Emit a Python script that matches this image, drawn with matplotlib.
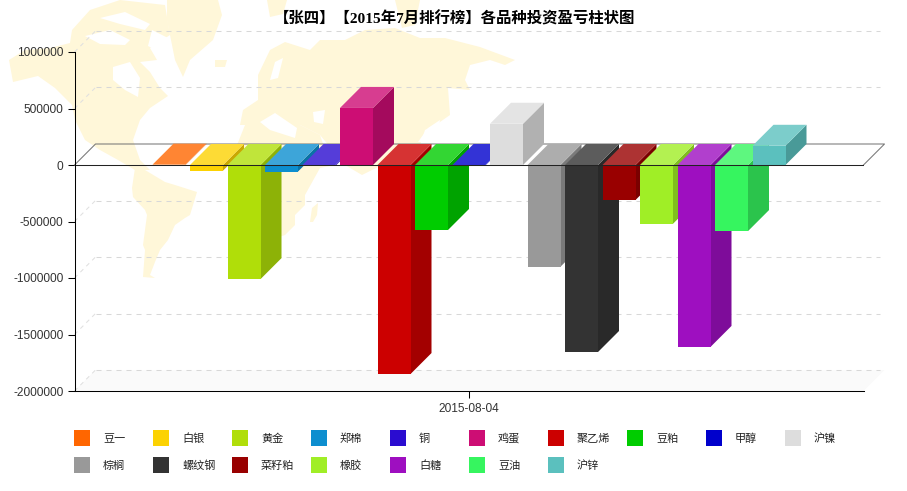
import matplotlib
matplotlib.use("Agg")
import matplotlib.pyplot as plt
from matplotlib.colors import to_rgb
from matplotlib.patches import Polygon, Rectangle
import numpy as np

names = ["豆一", "白银", "黄金", "郑棉", "铜", "鸡蛋", "聚乙烯", "豆粕", "甲醇", "沪镍",
         "棕榈", "螺纹钢", "菜籽粕", "橡胶", "白糖", "豆油", "沪锌"]
values = [3000, -50000, -1010000, -58000, -8000, 505000, -1850000, -575000, -3000, 365000,
          -900000, -1655000, -310000, -520000, -1610000, -585000, 170000]
colors = ["#FF6600", "#FCD202", "#B0DE09", "#0D8ECF", "#2A0CD0", "#CD0D74", "#CC0000", "#00CC00", "#0000CC", "#DDDDDD",
          "#999999", "#333333", "#990000", "#A0EE26", "#9E0FC0", "#36F55F", "#5BC0BE"]
yticks = [1000000, 500000, 0, -500000, -1000000, -1500000, -2000000]
date_label = "2015-08-04"
title = "【张四】【2015年7月排行榜】各品种投资盈亏柱状图"

W, H = 907, 491
CJK = ["Noto Sans CJK SC", "DejaVu Sans"]
MAP_COLOR = "#FFF7D9"

fig = plt.figure(figsize=(W / 100, H / 100), dpi=100, facecolor="white")

# background layer in pixel coordinates: world map picture and legend
bg = fig.add_axes([0, 0, 1, 1], zorder=0)
bg.set_xlim(0, W)
bg.set_ylim(H, 0)
bg.axis("off")

land = [
    # north america
    [(9, 60), (25, 50), (50, 48), (70, 43), (72, 30), (90, 10), (120, 0), (165, 5), (170, 35), (150, 48),
     (157, 60), (140, 62), (150, 72), (160, 88), (168, 96), (150, 108), (140, 120), (133, 140), (140, 160),
     (150, 170), (135, 170), (118, 160), (100, 150), (85, 140), (75, 120), (72, 105), (55, 88), (38, 76), (13, 82)],
    # greenland, iceland
    [(167, 0), (218, 0), (222, 15), (213, 40), (190, 60), (183, 77), (175, 60), (167, 20)],
    [(215, 60), (227, 60), (225, 67), (215, 67)],
    # south america
    [(135, 168), (145, 170), (165, 182), (175, 185), (197, 192), (190, 215), (185, 218), (175, 225), (168, 240),
     (160, 250), (155, 262), (150, 275), (155, 278), (143, 277), (145, 250), (143, 245), (147, 215), (145, 210),
     (133, 197), (132, 188)],
    # africa, madagascar
    [(245, 125), (260, 118), (300, 125), (320, 135), (325, 150), (335, 165), (320, 168), (305, 195), (305, 205),
     (295, 215), (295, 225), (285, 235), (270, 240), (265, 230), (260, 192), (240, 190), (228, 165), (235, 150)],
    [(310, 222), (312, 208), (318, 203), (317, 215), (313, 222)],
    # eurasia
    [(240, 125), (243, 110), (258, 100), (258, 75), (270, 50), (285, 42), (310, 50), (320, 40), (345, 40), (365, 30),
     (395, 28), (420, 38), (445, 38), (480, 47), (515, 60), (505, 65), (490, 60), (470, 65), (465, 80), (470, 90),
     (448, 88), (450, 115), (440, 122), (425, 130), (420, 145), (412, 165), (380, 166), (362, 175), (345, 165),
     (320, 135), (300, 125)],
    [(267, 0), (287, 0), (283, 14), (270, 17)],
    [(395, 0), (420, 0), (415, 25), (402, 28)],
]
water = [
    [(113, 67), (130, 62), (140, 78), (138, 97), (125, 90), (113, 80)],
    [(85, 36), (110, 30), (130, 40), (125, 45), (100, 44)],
    [(100, 18), (125, 12), (150, 24), (145, 30), (120, 24)],
    [(152, 30), (168, 38), (160, 52), (148, 46)],
    [(270, 80), (275, 62), (283, 58), (278, 78)],
    [(260, 122), (275, 113), (297, 128), (295, 138), (270, 130)],
    [(313, 112), (325, 110), (323, 124), (314, 122)],
    [(418, 142), (428, 128), (440, 120), (438, 132), (428, 142)],
]
for poly in land:
    bg.add_patch(Polygon(poly, closed=True, fc=MAP_COLOR, ec="none"))
for poly in water:
    bg.add_patch(Polygon(poly, closed=True, fc="white", ec="none"))

# legend, two rows of ten
for i, (name, color) in enumerate(zip(names, colors)):
    lx = 74 + 79 * (i % 10)
    ly = 430 + 27 * (i // 10)
    bg.add_patch(Rectangle((lx, ly), 16, 16, fc=color, ec="none"))
    bg.text(lx + 29, ly + 8.5, name, fontsize=8, family=CJK, color="#222222", ha="left", va="center")

bg.text(454.5, 18.5, title, fontsize=11.1, fontweight="bold", family=["Liberation Serif", "Noto Sans CJK SC"],
        color="black", ha="center", va="center")

# main plot
ax = fig.add_axes([74.5 / W, 1 - 391 / H, (864 - 75) / W, (391 - 52) / H], zorder=1)
ax.patch.set_alpha(0)
step = 37.5
half = (864 - 75) / 2 / step
ax.set_xlim(-half, half)
ax.set_ylim(-2000000, 1000000)
dx = 21 / step
dy = 21 / 113 * 1000000
x = np.arange(len(values)) - (len(values) - 1) / 2
width = 33 / step

# floor and dashed back wall
ax.add_patch(Polygon([(-half, -2000000), (half, -2000000), (half + dx, -2000000 + dy), (-half + dx, -2000000 + dy)],
                     closed=True, fc="#FAFAFA", ec="none", clip_on=False, zorder=1))
for t in yticks:
    if t == 0:
        continue
    ax.plot([-half + dx, half + dx * 0.8], [t + dy, t + dy], color="#D8D8D8", lw=0.75, dashes=(4.8, 4.8), clip_on=False, zorder=1)
    ax.plot([-half, -half + dx], [t, t + dy], color="#E0E0E0", lw=0.75, dashes=(4, 4), clip_on=False, zorder=1)

# zero plane outline
ax.plot([-half, -half + dx, half + dx, half], [0, dy, dy, 0], color="#777777", lw=0.75, clip_on=False, zorder=2)

for i in range(len(values)):
    v = values[i]
    c = np.array(to_rgb(colors[i]))
    left = x[i] - width / 2
    right = x[i] + width / 2
    top = max(v, 0)
    low = min(v, 0)
    z = 3 + i * 0.1
    ax.add_patch(Polygon([(right, low), (right + dx, low + dy), (right + dx, top + dy), (right, top)],
                         closed=True, fc=c * 0.8, ec="none", clip_on=False, zorder=z))
    ax.add_patch(Polygon([(left, top), (right, top), (right + dx, top + dy), (left + dx, top + dy)],
                         closed=True, fc=c * 0.8 + 0.2, ec="none", clip_on=False, zorder=z))
    ax.bar(x[i], v, width=width, color=colors[i], zorder=z)

ax.axhline(0, color="#222222", lw=0.75, zorder=6)

for s in ["top", "right"]:
    ax.spines[s].set_visible(False)
for s in ["left", "bottom"]:
    ax.spines[s].set_linewidth(0.75)
    ax.spines[s].set_zorder(7)
ax.set_yticks(yticks)
ax.set_yticklabels([str(t) for t in yticks], fontsize=8.6, family="Liberation Sans", color="#333333")
ax.set_xticks([0])
ax.set_xticklabels([date_label], fontsize=8.6, family="Liberation Sans", color="#333333")
ax.tick_params(axis="y", length=5, width=0.75, pad=3)
ax.tick_params(axis="x", length=5, width=0.75, pad=4)

fig.savefig("out.png", dpi=100)
